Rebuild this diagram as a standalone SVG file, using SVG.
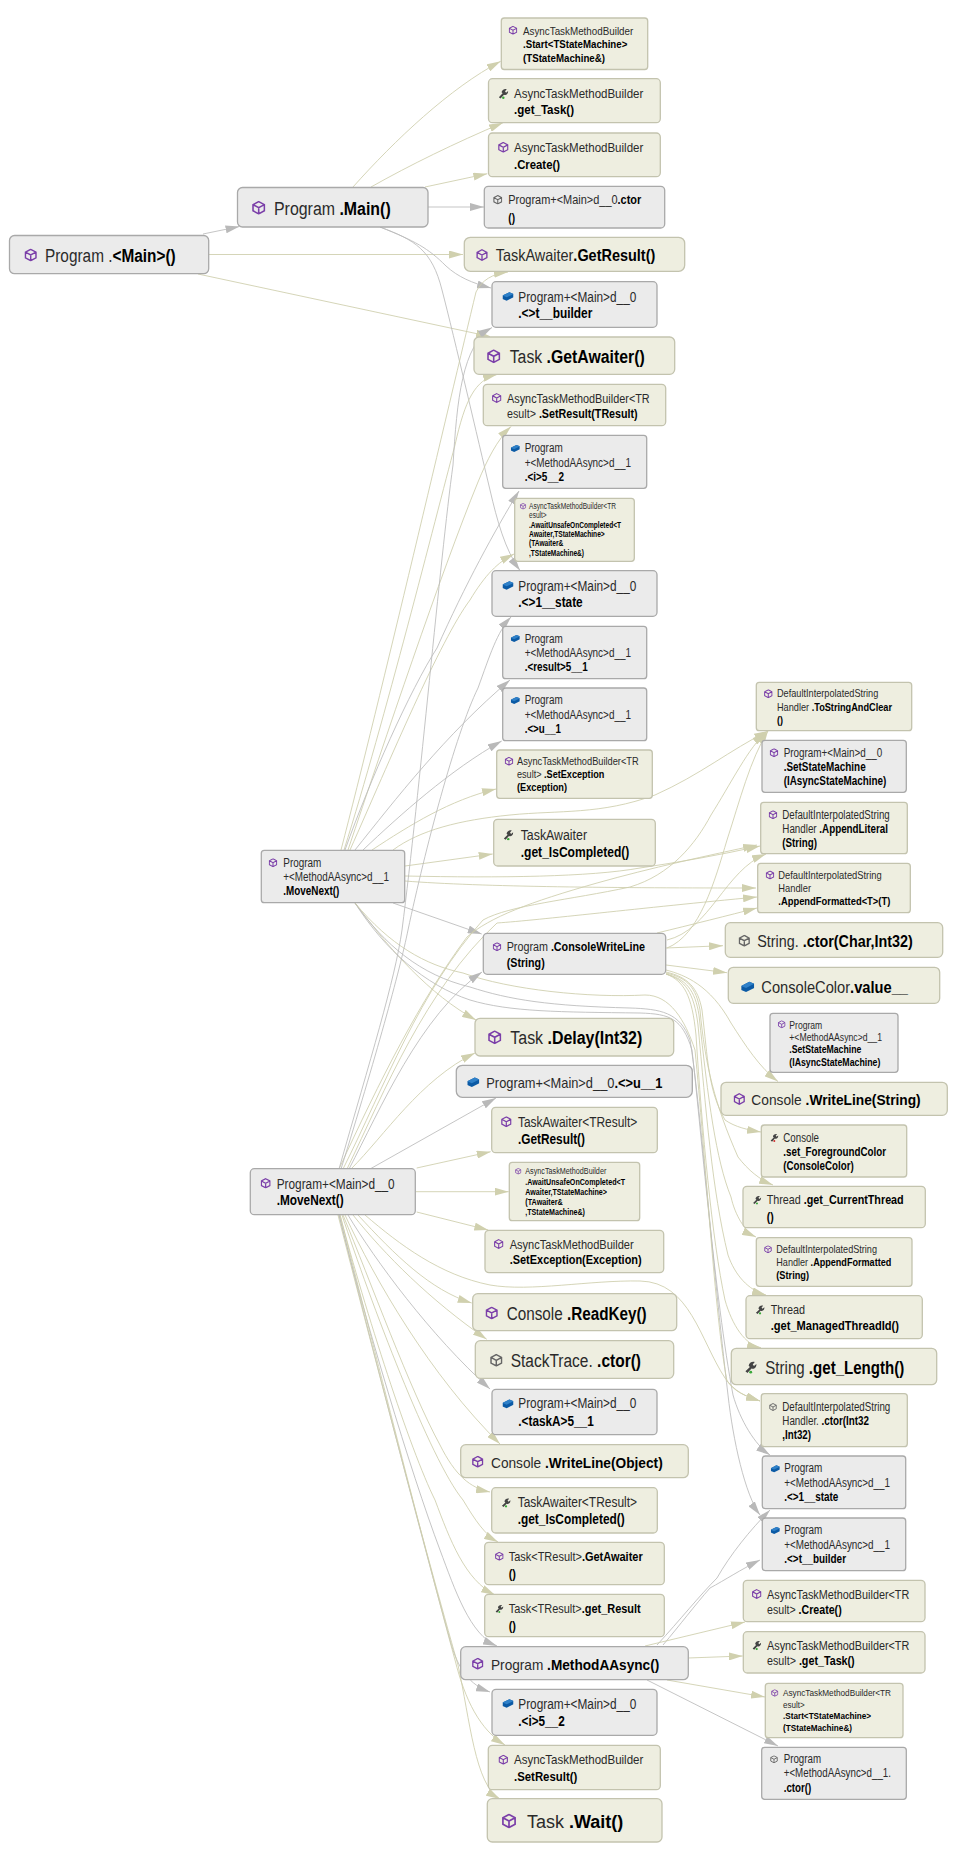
<svg xmlns="http://www.w3.org/2000/svg" width="956" height="1859" viewBox="0 0 956 1859">
<style>
text{font-family:"Liberation Sans",Arial,sans-serif;fill:#2a2a2a}
.b{font-weight:700;fill:#000}
.t{fill:#eeeee0;stroke:#c3c3ae;stroke-width:1.3}
.g{fill:#ebebeb;stroke:#a9a9a9;stroke-width:1.3}
.et,.eg{fill:none;stroke-width:.85}
.et{stroke:#cdcdab;marker-end:url(#at)}
.eg{stroke:#bbb;marker-end:url(#ag)}
.f85{font-size:8.5px}.f95{font-size:9.5px}.f10{font-size:10px}.f105{font-size:10.5px}.f11{font-size:11px}.f115{font-size:11.5px}.f12{font-size:12px}.f125{font-size:12.5px}.f13{font-size:13px}.f14{font-size:14px}.f15{font-size:15px}.f165{font-size:16.5px}.f18{font-size:18px}
</style>
<defs>
<marker id="at" markerUnits="userSpaceOnUse" markerWidth="14" markerHeight="8" refX="14" refY="4" orient="auto"><path d="M0,0L14,4L0,8z" fill="#d0d0ae"/></marker>
<marker id="ag" markerUnits="userSpaceOnUse" markerWidth="14" markerHeight="8" refX="14" refY="4" orient="auto"><path d="M0,0L14,4L0,8z" fill="#b9b9b9"/></marker>
<symbol id="cube" viewBox="0 0 16 16"><path d="M8,1L14.5,4.5V11.5L8,15L1.5,11.5V4.5zM1.5,4.5L8,8L14.5,4.5M8,8V15" fill="none" stroke="#7b3fa9" stroke-width="1.8"/></symbol>
<symbol id="gcube" viewBox="0 0 16 16"><path d="M8,1L14.5,4.5V11.5L8,15L1.5,11.5V4.5zM1.5,4.5L8,8L14.5,4.5M8,8V15" fill="none" stroke="#666" stroke-width="1.8"/></symbol>
<symbol id="brick" viewBox="0 0 16 16"><path d="M0,7L10,2L16,4.5V9.5L6,14.5L0,12z" fill="#0b5aa5"/><path d="M0,7L10,2L16,4.5L6,9.5z" fill="#2f80c8"/></symbol>
<symbol id="wrench" viewBox="0 0 16 16"><path d="M1.5,13L7,7.5L5.5,6C6,2.5 9.5,0.5 13,1.5L10.5,4.5L12,6.5L15,4C15.5,8 12,11 9,9.5L4,15z" fill="#444"/><circle cx="8" cy="14" r="1.8" fill="#3aa83a"/></symbol>
<symbol id="wrenchr" viewBox="0 0 16 16"><path d="M1.5,13L7,7.5L5.5,6C6,2.5 9.5,0.5 13,1.5L10.5,4.5L12,6.5L15,4C15.5,8 12,11 9,9.5L4,15z" fill="#444"/><circle cx="8" cy="14" r="1.8" fill="#d03030"/></symbol>
</defs>
<rect width="956" height="1859" fill="#fff"/>
<g id="connectors">
<path class="eg" d="M203,234L239.5,226.5"/>
<path class="et" d="M209,254.5L463,254.5"/>
<path class="et" d="M198,274L490,336.5"/>
<path class="et" d="M353,187C395,140 450,88 500.7,61.3"/>
<path class="et" d="M371,187C410,165 455,143 503,122.7"/>
<path class="et" d="M425,187L487.3,173.7"/>
<path class="eg" d="M428,207L484,207"/>
<path class="eg" d="M380,227C415,241 428,248 446,266C458,277 472,283 491,288"/>
<path class="eg" d="M380,227C415,240 432,250 442,290C455,340 478,440 490,490C497,520 505,550 520,570.5"/>
<path class="et" d="M341,850C380,700 450,400 476,292C482,280 492,274 508,272"/>
<path class="et" d="M344,850C385,720 435,520 455,445C465,400 475,380 497,374.5"/>
<path class="et" d="M348,850C385,740 440,575 478,482C487,460 497,440 511,426.5"/>
<path class="et" d="M350,850C390,760 440,640 470,600C485,575 498,562 514,554"/>
<path class="eg" d="M345,850C370,780 410,690 437,648C465,585 495,530 519,491"/>
<path class="eg" d="M355,850C395,800 445,735 510,680"/>
<path class="eg" d="M363,850C400,815 450,770 501.7,741"/>
<path class="et" d="M372,850C410,825 450,800 496,789"/>
<path class="et" d="M393,850C420,830 460,820 510,815C560,810 600,815 655,795C700,775 730,750 768,731"/>
<path class="et" d="M405,866L492.7,854"/>
<path class="et" d="M405,876C500,878 590,877 640,868C680,862 720,855 760,846"/>
<path class="et" d="M405,881C480,887 620,888 756,888"/>
<path class="eg" d="M393,903L481.7,934"/>
<path class="et" d="M355,903C390,950 430,995 476,1020"/>
<path class="eg" d="M355,903C385,945 420,975 470,987C510,1000 550,1006 630,1008C660,1009 680,1012 690,1040C700,1100 712,1260 728,1395C733,1440 745,1495 760,1515"/>
<path class="eg" d="M355,903C385,950 425,985 470,1000C510,1012 560,1012 640,1013C670,1014 682,1018 692,1050C700,1120 715,1300 733,1395C740,1420 755,1445 770,1455"/>
<path class="et" d="M355,903C390,945 425,965 463,973C510,990 590,998 645,995C670,995 685,1020 695,1050C705,1150 715,1320 727,1381C735,1392 745,1396 760,1401"/>
<path class="et" d="M339,1169C380,1080 420,1000 467,937C490,917 530,902 597,883C650,868 710,855 757,845"/>
<path class="et" d="M343,1169C385,1085 420,990 483,920C510,905 570,900 630,887C670,875 695,845 711,815C730,785 750,745 766,733"/>
<path class="et" d="M347,1169C385,1090 425,990 497,923C540,920 640,908 757,897"/>
<path class="eg" d="M339,1169C370,1060 395,980 402,930C420,790 440,560 453,465C457,400 462,345 492,327.5"/>
<path class="eg" d="M341,1169C375,1060 400,970 408,930C425,850 455,735 478,688C490,655 497,632 511,617"/>
<path class="eg" d="M349,1169C380,1110 420,1015 482,972"/>
<path class="et" d="M351,1169C385,1135 420,1080 475,1053"/>
<path class="eg" d="M370,1169L496,1098"/>
<path class="et" d="M416.7,1168L490.7,1151.7"/>
<path class="et" d="M415.5,1191.7L508.7,1191.7"/>
<path class="et" d="M416.7,1212L488.3,1230"/>
<path class="et" d="M365,1215C400,1245 440,1275 490,1285C530,1292 590,1280 640,1281C690,1282 700,1340 725,1378C735,1392 745,1396 760,1401"/>
<path class="et" d="M358,1215C395,1255 430,1290 471.7,1303"/>
<path class="et" d="M353,1215C385,1255 430,1300 486.7,1339.3"/>
<path class="eg" d="M348,1215C375,1260 430,1335 490,1389"/>
<path class="et" d="M345,1215C375,1280 430,1375 500,1444"/>
<path class="et" d="M343,1215C370,1280 410,1390 440,1445C455,1475 470,1488 490,1492"/>
<path class="et" d="M342,1215C370,1300 430,1460 463,1500C475,1520 485,1535 498,1542"/>
<path class="et" d="M340,1215C365,1310 410,1450 435,1500C450,1540 465,1580 495,1595"/>
<path class="eg" d="M339,1215C365,1320 410,1470 440,1550C455,1590 470,1635 497,1646"/>
<path class="eg" d="M339,1215C370,1340 425,1550 450,1640C458,1670 470,1685 490,1692"/>
<path class="et" d="M340,1215C372,1340 425,1550 455,1660C465,1700 480,1730 505,1745"/>
<path class="et" d="M338,1215C370,1340 425,1550 458,1665C470,1720 475,1785 500,1799"/>
<path class="et" d="M667,948C700,935 715,880 727,840C740,800 750,760 768,731"/>
<path class="et" d="M667,940C710,930 725,870 766,854"/>
<path class="et" d="M657,933C690,925 730,915 757,908"/>
<path class="et" d="M666,948L723,945.7"/>
<path class="et" d="M666,965L727,972.7"/>
<path class="et" d="M666,970C685,975 710,985 731,1023C745,1045 760,1068 778,1081.5"/>
<path class="et" d="M666,972C688,977 698,988 702,1010C708,1060 708,1090 725,1120C735,1127 748,1130 761,1132"/>
<path class="et" d="M666,973C688,978 696,988 700,1010C705,1065 715,1105 738,1157C748,1170 760,1180 773,1185"/>
<path class="et" d="M666,974C686,979 695,990 699,1015C708,1100 716,1160 731,1197C735,1215 745,1232 756,1237"/>
<path class="et" d="M666,974C685,980 694,992 698,1025C706,1110 712,1190 728,1255C735,1275 748,1290 766,1295"/>
<path class="et" d="M666,974C684,981 692,995 696,1035C702,1130 712,1240 725,1300C732,1325 745,1345 761,1347.7"/>
<path class="eg" d="M657,1645C680,1620 700,1595 717,1578C730,1555 750,1530 770,1510"/>
<path class="eg" d="M663,1645C680,1625 695,1605 710,1588C725,1580 740,1570 760,1560"/>
<path class="et" d="M645,1646L745,1622"/>
<path class="et" d="M688,1658L742.7,1656"/>
<path class="et" d="M667,1680L765,1697"/>
<path class="eg" d="M647,1680L778,1746"/>
</g>
<g id="n01"><rect class="g" x="9.5" y="235.5" width="199.2" height="38.2" rx="5"/><use href="#cube" x="24.2" y="248.5" width="13" height="13"/><text x="45" y="261.7" textLength="130.7" lengthAdjust="spacingAndGlyphs" class="f18">Program .<tspan class="b">&lt;Main&gt;()</tspan></text></g>
<g id="n02"><rect class="g" x="237.5" y="187.5" width="190.5" height="39.5" rx="5"/><use href="#cube" x="251.7" y="200.7" width="14" height="14"/><text x="274" y="215" textLength="116.7" lengthAdjust="spacingAndGlyphs" class="f18">Program <tspan class="b">.Main()</tspan></text></g>
<g id="n03"><rect class="t" x="501.3" y="18" width="146.4" height="51.5" rx="3"/><use href="#cube" x="508.5" y="25.8" width="9" height="9"/><text x="523" y="34.5" textLength="110.3" lengthAdjust="spacingAndGlyphs" class="f11">AsyncTaskMethodBuilder</text><text x="523" y="48.3" textLength="104.3" lengthAdjust="spacingAndGlyphs" class="f11 b">.Start&lt;TStateMachine&gt;</text><text x="523" y="62.3" textLength="82" lengthAdjust="spacingAndGlyphs" class="f11 b">(TStateMachine&amp;)</text></g>
<g id="n04"><rect class="t" x="488.5" y="78.7" width="171.8" height="44" rx="4"/><use href="#wrench" x="497.8" y="88.2" width="11" height="11"/><text x="514" y="97.7" textLength="129.3" lengthAdjust="spacingAndGlyphs" class="f125">AsyncTaskMethodBuilder</text><text x="514" y="114.3" textLength="60" lengthAdjust="spacingAndGlyphs" class="f125 b">.get_Task()</text></g>
<g id="n05"><rect class="t" x="488.5" y="133" width="171.8" height="43.7" rx="4"/><use href="#cube" x="497.8" y="141.8" width="11" height="11"/><text x="514" y="151.7" textLength="129.3" lengthAdjust="spacingAndGlyphs" class="f125">AsyncTaskMethodBuilder</text><text x="514" y="169" textLength="46" lengthAdjust="spacingAndGlyphs" class="f125 b">.Create()</text></g>
<g id="n06"><rect class="g" x="484.3" y="186.3" width="180.4" height="41.7" rx="4"/><use href="#gcube" x="493" y="195" width="9.5" height="9.5"/><text x="508.3" y="204" textLength="133" lengthAdjust="spacingAndGlyphs" class="f125">Program+&lt;Main&gt;d__0<tspan class="b">.ctor</tspan></text><text x="508.3" y="221.7" textLength="6.7" lengthAdjust="spacingAndGlyphs" class="f125 b">()</text></g>
<g id="n07"><rect class="t" x="464.3" y="237.3" width="220.4" height="34" rx="6"/><use href="#cube" x="476" y="249" width="12" height="12"/><text x="495.7" y="261" textLength="159.6" lengthAdjust="spacingAndGlyphs" class="f165">TaskAwaiter<tspan class="b">.GetResult()</tspan></text></g>
<g id="n08"><rect class="g" x="492" y="281.7" width="165" height="45.6" rx="4"/><use href="#brick" x="502.5" y="290.8" width="11" height="11"/><text x="518.3" y="301.7" textLength="118" lengthAdjust="spacingAndGlyphs" class="f14">Program+&lt;Main&gt;d__0</text><text x="518.3" y="318.3" textLength="74" lengthAdjust="spacingAndGlyphs" class="f14 b">.&lt;&gt;t__builder</text></g>
<g id="n09"><rect class="t" x="474" y="337" width="200.7" height="37.3" rx="5"/><use href="#cube" x="486.7" y="349.3" width="14" height="14"/><text x="509.7" y="362.7" textLength="135" lengthAdjust="spacingAndGlyphs" class="f18">Task <tspan class="b">.GetAwaiter()</tspan></text></g>
<g id="n10"><rect class="t" x="483.3" y="384.3" width="182.4" height="41.4" rx="4"/><use href="#cube" x="491.7" y="393" width="10" height="10"/><text x="507" y="402.7" textLength="142.7" lengthAdjust="spacingAndGlyphs" class="f12">AsyncTaskMethodBuilder&lt;TR</text><text x="507" y="417.7" textLength="130.7" lengthAdjust="spacingAndGlyphs" class="f12">esult&gt; <tspan class="b">.SetResult(TResult)</tspan></text></g>
<g id="n11"><rect class="g" x="502.7" y="435.3" width="144" height="53" rx="3"/><use href="#brick" x="510.8" y="443.8" width="9" height="9"/><text x="524.7" y="452.3" textLength="38" lengthAdjust="spacingAndGlyphs" class="f12">Program</text><text x="524.7" y="466.7" textLength="106.3" lengthAdjust="spacingAndGlyphs" class="f12">+&lt;MethodAAsync&gt;d__1</text><text x="524.7" y="481" textLength="39.3" lengthAdjust="spacingAndGlyphs" class="f12 b">.&lt;i&gt;5__2</text></g>
<g id="n12"><rect class="t" x="514.7" y="498.3" width="119.6" height="63" rx="3"/><use href="#cube" x="519.8" y="503" width="6.5" height="6.5"/><text x="529" y="509" textLength="87" lengthAdjust="spacingAndGlyphs" class="f85">AsyncTaskMethodBuilder&lt;TR</text><text x="529" y="518.3" textLength="17.7" lengthAdjust="spacingAndGlyphs" class="f85">esult&gt;</text><text x="529" y="527.7" textLength="92" lengthAdjust="spacingAndGlyphs" class="f85 b">.AwaitUnsafeOnCompleted&lt;T</text><text x="529" y="537" textLength="75.7" lengthAdjust="spacingAndGlyphs" class="f85 b">Awaiter,TStateMachine&gt;</text><text x="529" y="546.3" textLength="34.3" lengthAdjust="spacingAndGlyphs" class="f85 b">(TAwaiter&amp;</text><text x="529" y="555.7" textLength="55" lengthAdjust="spacingAndGlyphs" class="f85 b">,TStateMachine&amp;)</text></g>
<g id="n13"><rect class="g" x="492" y="570.7" width="165" height="45.6" rx="4"/><use href="#brick" x="502.5" y="579.8" width="11" height="11"/><text x="518.3" y="591" textLength="118" lengthAdjust="spacingAndGlyphs" class="f14">Program+&lt;Main&gt;d__0</text><text x="518.3" y="607.3" textLength="64.4" lengthAdjust="spacingAndGlyphs" class="f14 b">.&lt;&gt;1__state</text></g>
<g id="n14"><rect class="g" x="502.7" y="626.3" width="144" height="52.4" rx="3"/><use href="#brick" x="510.8" y="633.8" width="9" height="9"/><text x="524.7" y="642.7" textLength="38" lengthAdjust="spacingAndGlyphs" class="f12">Program</text><text x="524.7" y="657" textLength="106.3" lengthAdjust="spacingAndGlyphs" class="f12">+&lt;MethodAAsync&gt;d__1</text><text x="524.7" y="671" textLength="63" lengthAdjust="spacingAndGlyphs" class="f12 b">.&lt;result&gt;5__1</text></g>
<g id="n15"><rect class="g" x="502.7" y="688" width="144" height="52.7" rx="3"/><use href="#brick" x="510.8" y="695.8" width="9" height="9"/><text x="524.7" y="704.3" textLength="38" lengthAdjust="spacingAndGlyphs" class="f12">Program</text><text x="524.7" y="718.7" textLength="106.3" lengthAdjust="spacingAndGlyphs" class="f12">+&lt;MethodAAsync&gt;d__1</text><text x="524.7" y="733" textLength="36.3" lengthAdjust="spacingAndGlyphs" class="f12 b">.&lt;&gt;u__1</text></g>
<g id="n16"><rect class="t" x="496.7" y="750" width="155.6" height="48.3" rx="3"/><use href="#cube" x="504.5" y="756.8" width="9" height="9"/><text x="517" y="765" textLength="121.7" lengthAdjust="spacingAndGlyphs" class="f115">AsyncTaskMethodBuilder&lt;TR</text><text x="517" y="778" textLength="87.3" lengthAdjust="spacingAndGlyphs" class="f115">esult&gt; <tspan class="b">.SetException</tspan></text><text x="517" y="791" textLength="50" lengthAdjust="spacingAndGlyphs" class="f115 b">(Exception)</text></g>
<g id="n17"><rect class="t" x="493.7" y="819.3" width="161.6" height="46.7" rx="4"/><use href="#wrench" x="502.8" y="829.5" width="11" height="11"/><text x="520.7" y="839.7" textLength="66.3" lengthAdjust="spacingAndGlyphs" class="f14">TaskAwaiter</text><text x="520.7" y="857" textLength="108.6" lengthAdjust="spacingAndGlyphs" class="f14 b">.get_IsCompleted()</text></g>
<g id="n18"><rect class="t" x="756.3" y="682.3" width="155.4" height="48.4" rx="3"/><use href="#cube" x="763.8" y="689.2" width="9" height="9"/><text x="777" y="697.3" textLength="101.3" lengthAdjust="spacingAndGlyphs" class="f11">DefaultInterpolatedString</text><text x="777" y="710.7" textLength="115" lengthAdjust="spacingAndGlyphs" class="f11">Handler <tspan class="b">.ToStringAndClear</tspan></text><text x="777" y="724.3" textLength="6" lengthAdjust="spacingAndGlyphs" class="f11 b">()</text></g>
<g id="n19"><rect class="g" x="762" y="740.3" width="144.3" height="52" rx="3"/><use href="#cube" x="769.5" y="748.2" width="9" height="9"/><text x="783.7" y="757" textLength="98.6" lengthAdjust="spacingAndGlyphs" class="f12">Program+&lt;Main&gt;d__0</text><text x="783.7" y="771" textLength="82" lengthAdjust="spacingAndGlyphs" class="f12 b">.SetStateMachine</text><text x="783.7" y="785" textLength="102.6" lengthAdjust="spacingAndGlyphs" class="f12 b">(IAsyncStateMachine)</text></g>
<g id="n20"><rect class="t" x="760.7" y="802.3" width="146.6" height="51.4" rx="3"/><use href="#cube" x="768.5" y="810.2" width="9" height="9"/><text x="782.3" y="819" textLength="107.4" lengthAdjust="spacingAndGlyphs" class="f12">DefaultInterpolatedString</text><text x="782.3" y="833" textLength="105.7" lengthAdjust="spacingAndGlyphs" class="f12">Handler <tspan class="b">.AppendLiteral</tspan></text><text x="782.3" y="847" textLength="34.7" lengthAdjust="spacingAndGlyphs" class="f12 b">(String)</text></g>
<g id="n21"><rect class="t" x="757.7" y="863.3" width="152.6" height="49.4" rx="3"/><use href="#cube" x="765.5" y="870.5" width="9" height="9"/><text x="778.3" y="879" textLength="103.4" lengthAdjust="spacingAndGlyphs" class="f11">DefaultInterpolatedString</text><text x="778.3" y="892.3" textLength="32.7" lengthAdjust="spacingAndGlyphs" class="f11">Handler</text><text x="778.3" y="905.3" textLength="112" lengthAdjust="spacingAndGlyphs" class="f11 b">.AppendFormatted&lt;T&gt;(T)</text></g>
<g id="n22"><rect class="t" x="725.3" y="922.7" width="217.4" height="34.6" rx="5"/><use href="#gcube" x="738.3" y="934.7" width="12" height="12"/><text x="757.3" y="947.3" textLength="155.4" lengthAdjust="spacingAndGlyphs" class="f165">String. <tspan class="b">.ctor(Char,Int32)</tspan></text></g>
<g id="n23"><rect class="g" x="483.3" y="933.3" width="182.4" height="41" rx="4"/><use href="#cube" x="492.5" y="942.2" width="9" height="9"/><text x="506.7" y="951.3" textLength="138.3" lengthAdjust="spacingAndGlyphs" class="f12">Program <tspan class="b">.ConsoleWriteLine</tspan></text><text x="506.7" y="966.7" textLength="38" lengthAdjust="spacingAndGlyphs" class="f12 b">(String)</text></g>
<g id="n24"><rect class="t" x="728.3" y="967.3" width="211.4" height="36" rx="5"/><use href="#brick" x="741.2" y="980.2" width="13" height="13"/><text x="761.3" y="992.7" textLength="146.7" lengthAdjust="spacingAndGlyphs" class="f165">ConsoleColor<tspan class="b">.value__</tspan></text></g>
<g id="n25"><rect class="g" x="770" y="1013.3" width="128" height="59" rx="3"/><use href="#cube" x="777.7" y="1020.3" width="8" height="8"/><text x="789.3" y="1028.7" textLength="33" lengthAdjust="spacingAndGlyphs" class="f10">Program</text><text x="789.3" y="1041" textLength="92.7" lengthAdjust="spacingAndGlyphs" class="f10">+&lt;MethodAAsync&gt;d__1</text><text x="789.3" y="1053.3" textLength="72" lengthAdjust="spacingAndGlyphs" class="f10 b">.SetStateMachine</text><text x="789.3" y="1066" textLength="91" lengthAdjust="spacingAndGlyphs" class="f10 b">(IAsyncStateMachine)</text></g>
<g id="n26"><rect class="t" x="721" y="1082.3" width="226.3" height="33" rx="5"/><use href="#cube" x="733.3" y="1093" width="12" height="12"/><text x="751.3" y="1105.3" textLength="169.4" lengthAdjust="spacingAndGlyphs" class="f15">Console <tspan class="b">.WriteLine(String)</tspan></text></g>
<g id="n27"><rect class="t" x="475" y="1018.3" width="198.7" height="37.7" rx="5"/><use href="#cube" x="487.7" y="1030.3" width="14" height="14"/><text x="510.3" y="1044.3" textLength="132" lengthAdjust="spacingAndGlyphs" class="f18">Task <tspan class="b">.Delay(Int32)</tspan></text></g>
<g id="n28"><rect class="g" x="456.3" y="1065.3" width="236" height="32" rx="6"/><use href="#brick" x="467.3" y="1076" width="12" height="12"/><text x="486.3" y="1087.7" textLength="176" lengthAdjust="spacingAndGlyphs" class="f15">Program+&lt;Main&gt;d__0<tspan class="b">.&lt;&gt;u__1</tspan></text></g>
<g id="n29"><rect class="t" x="491.7" y="1107.3" width="165.6" height="45.4" rx="4"/><use href="#cube" x="500.8" y="1116.2" width="11" height="11"/><text x="518" y="1127" textLength="119.3" lengthAdjust="spacingAndGlyphs" class="f14">TaskAwaiter&lt;TResult&gt;</text><text x="518" y="1144" textLength="67" lengthAdjust="spacingAndGlyphs" class="f14 b">.GetResult()</text></g>
<g id="n30"><rect class="t" x="509.3" y="1162.3" width="130.4" height="58.4" rx="3"/><use href="#cube" x="515" y="1168" width="6.5" height="6.5"/><text x="525.3" y="1174.3" textLength="81" lengthAdjust="spacingAndGlyphs" class="f85">AsyncTaskMethodBuilder</text><text x="525.3" y="1184.7" textLength="99.7" lengthAdjust="spacingAndGlyphs" class="f85 b">.AwaitUnsafeOnCompleted&lt;T</text><text x="525.3" y="1194.7" textLength="81.7" lengthAdjust="spacingAndGlyphs" class="f85 b">Awaiter,TStateMachine&gt;</text><text x="525.3" y="1205" textLength="37.4" lengthAdjust="spacingAndGlyphs" class="f85 b">(TAwaiter&amp;</text><text x="525.3" y="1215" textLength="59.7" lengthAdjust="spacingAndGlyphs" class="f85 b">,TStateMachine&amp;)</text></g>
<g id="n31"><rect class="t" x="485" y="1230.3" width="178.7" height="42.4" rx="4"/><use href="#cube" x="493.7" y="1239" width="10" height="10"/><text x="509.7" y="1248.7" textLength="124" lengthAdjust="spacingAndGlyphs" class="f125">AsyncTaskMethodBuilder</text><text x="509.7" y="1264" textLength="132" lengthAdjust="spacingAndGlyphs" class="f125 b">.SetException(Exception)</text></g>
<g id="n32"><rect class="t" x="761.3" y="1125" width="145.4" height="52" rx="3"/><use href="#wrenchr" x="769.8" y="1133.2" width="9" height="9"/><text x="783.3" y="1141.7" textLength="35.7" lengthAdjust="spacingAndGlyphs" class="f12">Console</text><text x="783.3" y="1156" textLength="102.7" lengthAdjust="spacingAndGlyphs" class="f12 b">.set_ForegroundColor</text><text x="783.3" y="1170" textLength="70.4" lengthAdjust="spacingAndGlyphs" class="f12 b">(ConsoleColor)</text></g>
<g id="n33"><rect class="t" x="743" y="1186.3" width="182.3" height="41.4" rx="4"/><use href="#wrench" x="752.2" y="1195.2" width="9.5" height="9.5"/><text x="766.7" y="1204" textLength="137" lengthAdjust="spacingAndGlyphs" class="f13">Thread <tspan class="b">.get_CurrentThread</tspan></text><text x="766.7" y="1221" textLength="7" lengthAdjust="spacingAndGlyphs" class="f13 b">()</text></g>
<g id="n34"><rect class="t" x="756.3" y="1237.7" width="155.7" height="48.6" rx="3"/><use href="#cube" x="764" y="1245.3" width="8" height="8"/><text x="776.3" y="1253.3" textLength="100.7" lengthAdjust="spacingAndGlyphs" class="f11">DefaultInterpolatedString</text><text x="776.3" y="1266.3" textLength="115" lengthAdjust="spacingAndGlyphs" class="f11">Handler <tspan class="b">.AppendFormatted</tspan></text><text x="776.3" y="1279.3" textLength="32.7" lengthAdjust="spacingAndGlyphs" class="f11 b">(String)</text></g>
<g id="n35"><rect class="t" x="746" y="1295.7" width="176.3" height="43" rx="4"/><use href="#wrench" x="755" y="1304.7" width="10" height="10"/><text x="770.7" y="1314" textLength="34.3" lengthAdjust="spacingAndGlyphs" class="f13">Thread</text><text x="770.7" y="1330.3" textLength="128.3" lengthAdjust="spacingAndGlyphs" class="f13 b">.get_ManagedThreadId()</text></g>
<g id="n36"><rect class="t" x="731.3" y="1348.3" width="205.4" height="36.4" rx="5"/><use href="#wrench" x="744.2" y="1360.8" width="13" height="13"/><text x="765.3" y="1374.3" textLength="139" lengthAdjust="spacingAndGlyphs" class="f18">String <tspan class="b">.get_Length()</tspan></text></g>
<g id="n37"><rect class="t" x="472.7" y="1293.7" width="204" height="37" rx="5"/><use href="#cube" x="485.2" y="1306.5" width="13" height="13"/><text x="506.7" y="1320" textLength="140" lengthAdjust="spacingAndGlyphs" class="f18">Console <tspan class="b">.ReadKey()</tspan></text></g>
<g id="n38"><rect class="t" x="475.3" y="1340.7" width="198.4" height="37.6" rx="5"/><use href="#gcube" x="489.8" y="1353.8" width="13" height="13"/><text x="510.7" y="1366.7" textLength="130.3" lengthAdjust="spacingAndGlyphs" class="f18">StackTrace. <tspan class="b">.ctor()</tspan></text></g>
<g id="n39"><rect class="g" x="492" y="1389.3" width="165" height="45.4" rx="4"/><use href="#brick" x="502.5" y="1398.2" width="11" height="11"/><text x="518.3" y="1408.3" textLength="118" lengthAdjust="spacingAndGlyphs" class="f14">Program+&lt;Main&gt;d__0</text><text x="518.3" y="1425.7" textLength="75.4" lengthAdjust="spacingAndGlyphs" class="f14 b">.&lt;taskA&gt;5__1</text></g>
<g id="n40"><rect class="t" x="460.7" y="1444.7" width="227.6" height="33" rx="5"/><use href="#cube" x="471.7" y="1455.7" width="12" height="12"/><text x="491" y="1467.7" textLength="171.7" lengthAdjust="spacingAndGlyphs" class="f15">Console <tspan class="b">.WriteLine(Object)</tspan></text></g>
<g id="n41"><rect class="t" x="491.7" y="1487.7" width="165.6" height="45.3" rx="4"/><use href="#wrench" x="501" y="1497.7" width="10" height="10"/><text x="517.7" y="1507" textLength="119.3" lengthAdjust="spacingAndGlyphs" class="f14">TaskAwaiter&lt;TResult&gt;</text><text x="517.7" y="1524.3" textLength="107" lengthAdjust="spacingAndGlyphs" class="f14 b">.get_IsCompleted()</text></g>
<g id="n42"><rect class="t" x="484.7" y="1542.3" width="179.6" height="42.4" rx="4"/><use href="#cube" x="494.8" y="1551.8" width="9" height="9"/><text x="508.7" y="1560.7" textLength="134" lengthAdjust="spacingAndGlyphs" class="f13">Task&lt;TResult&gt;<tspan class="b">.GetAwaiter</tspan></text><text x="508.7" y="1577.7" textLength="7.3" lengthAdjust="spacingAndGlyphs" class="f13 b">()</text></g>
<g id="n43"><rect class="t" x="484.7" y="1594.3" width="179.6" height="42.4" rx="4"/><use href="#wrench" x="494.8" y="1604.2" width="9" height="9"/><text x="508.7" y="1612.7" textLength="132" lengthAdjust="spacingAndGlyphs" class="f13">Task&lt;TResult&gt;<tspan class="b">.get_Result</tspan></text><text x="508.7" y="1629.7" textLength="7.3" lengthAdjust="spacingAndGlyphs" class="f13 b">()</text></g>
<g id="n44"><rect class="g" x="460.7" y="1646.7" width="227.6" height="33" rx="5"/><use href="#cube" x="471.7" y="1657.7" width="12" height="12"/><text x="491" y="1669.7" textLength="168.3" lengthAdjust="spacingAndGlyphs" class="f15">Program <tspan class="b">.MethodAAsync()</tspan></text></g>
<g id="n45"><rect class="g" x="492" y="1689.3" width="165" height="46" rx="4"/><use href="#brick" x="502.5" y="1697.8" width="11" height="11"/><text x="518.3" y="1709" textLength="118" lengthAdjust="spacingAndGlyphs" class="f14">Program+&lt;Main&gt;d__0</text><text x="518.3" y="1726" textLength="46.4" lengthAdjust="spacingAndGlyphs" class="f14 b">.&lt;i&gt;5__2</text></g>
<g id="n46"><rect class="t" x="488.3" y="1745.3" width="172" height="44.4" rx="4"/><use href="#cube" x="498.3" y="1754.7" width="10" height="10"/><text x="514" y="1764" textLength="129.3" lengthAdjust="spacingAndGlyphs" class="f13">AsyncTaskMethodBuilder</text><text x="514" y="1781" textLength="63.3" lengthAdjust="spacingAndGlyphs" class="f13 b">.SetResult()</text></g>
<g id="n47"><rect class="t" x="487.3" y="1798.7" width="174.7" height="43.3" rx="5"/><use href="#cube" x="501.5" y="1813.5" width="15" height="15"/><text x="527" y="1828.3" textLength="96.3" lengthAdjust="spacingAndGlyphs" class="f18">Task <tspan class="b">.Wait()</tspan></text></g>
<g id="n48"><rect class="t" x="761.3" y="1393.6" width="146" height="53.1" rx="3"/><use href="#gcube" x="769" y="1403" width="8" height="8"/><text x="782.3" y="1411" textLength="108" lengthAdjust="spacingAndGlyphs" class="f12">DefaultInterpolatedString</text><text x="782.3" y="1425" textLength="86.7" lengthAdjust="spacingAndGlyphs" class="f12">Handler. <tspan class="b">.ctor(Int32</tspan></text><text x="782.3" y="1439" textLength="28.7" lengthAdjust="spacingAndGlyphs" class="f12 b">,Int32)</text></g>
<g id="n49"><rect class="g" x="762.3" y="1456" width="143.4" height="52.7" rx="3"/><use href="#brick" x="770.8" y="1464.2" width="9" height="9"/><text x="784.3" y="1472.3" textLength="38" lengthAdjust="spacingAndGlyphs" class="f12">Program</text><text x="784.3" y="1486.7" textLength="105.7" lengthAdjust="spacingAndGlyphs" class="f12">+&lt;MethodAAsync&gt;d__1</text><text x="784.3" y="1501" textLength="54" lengthAdjust="spacingAndGlyphs" class="f12 b">.&lt;&gt;1__state</text></g>
<g id="n50"><rect class="g" x="762.3" y="1518" width="143.4" height="52.7" rx="3"/><use href="#brick" x="770.8" y="1525.8" width="9" height="9"/><text x="784.3" y="1534.3" textLength="38" lengthAdjust="spacingAndGlyphs" class="f12">Program</text><text x="784.3" y="1548.7" textLength="105.7" lengthAdjust="spacingAndGlyphs" class="f12">+&lt;MethodAAsync&gt;d__1</text><text x="784.3" y="1562.7" textLength="61.7" lengthAdjust="spacingAndGlyphs" class="f12 b">.&lt;&gt;t__builder</text></g>
<g id="n51"><rect class="t" x="743.3" y="1580.3" width="181.7" height="41.4" rx="4"/><use href="#cube" x="751.7" y="1589" width="10" height="10"/><text x="767" y="1598.7" textLength="142.3" lengthAdjust="spacingAndGlyphs" class="f12">AsyncTaskMethodBuilder&lt;TR</text><text x="767" y="1613.7" textLength="74.7" lengthAdjust="spacingAndGlyphs" class="f12">esult&gt; <tspan class="b">.Create()</tspan></text></g>
<g id="n52"><rect class="t" x="743.3" y="1631.7" width="181.7" height="41.3" rx="4"/><use href="#wrench" x="751.7" y="1640.3" width="10" height="10"/><text x="767" y="1649.7" textLength="142.3" lengthAdjust="spacingAndGlyphs" class="f12">AsyncTaskMethodBuilder&lt;TR</text><text x="767" y="1664.7" textLength="87.7" lengthAdjust="spacingAndGlyphs" class="f12">esult&gt; <tspan class="b">.get_Task()</tspan></text></g>
<g id="n53"><rect class="t" x="765.3" y="1683.3" width="137.7" height="54.4" rx="3"/><use href="#cube" x="771" y="1689.2" width="7.5" height="7.5"/><text x="783" y="1696.3" textLength="108" lengthAdjust="spacingAndGlyphs" class="f95">AsyncTaskMethodBuilder&lt;TR</text><text x="783" y="1707.7" textLength="21.7" lengthAdjust="spacingAndGlyphs" class="f95">esult&gt;</text><text x="783" y="1719.3" textLength="88" lengthAdjust="spacingAndGlyphs" class="f95 b">.Start&lt;TStateMachine&gt;</text><text x="783" y="1731" textLength="69" lengthAdjust="spacingAndGlyphs" class="f95 b">(TStateMachine&amp;)</text></g>
<g id="n54"><rect class="g" x="761.7" y="1747.3" width="144.6" height="52" rx="3"/><use href="#gcube" x="770" y="1755.3" width="8" height="8"/><text x="783.7" y="1763" textLength="37.3" lengthAdjust="spacingAndGlyphs" class="f12">Program</text><text x="783.7" y="1777.3" textLength="107.3" lengthAdjust="spacingAndGlyphs" class="f12">+&lt;MethodAAsync&gt;d__1.</text><text x="783.7" y="1791.7" textLength="27.6" lengthAdjust="spacingAndGlyphs" class="f12 b">.ctor()</text></g>
<g id="n55"><rect class="g" x="261.3" y="850.3" width="143.4" height="52.4" rx="3"/><use href="#cube" x="268.5" y="858.2" width="9" height="9"/><text x="283.3" y="866.7" textLength="38" lengthAdjust="spacingAndGlyphs" class="f12">Program</text><text x="283.3" y="881" textLength="105.7" lengthAdjust="spacingAndGlyphs" class="f12">+&lt;MethodAAsync&gt;d__1</text><text x="283.3" y="895" textLength="56" lengthAdjust="spacingAndGlyphs" class="f12 b">.MoveNext()</text></g>
<g id="n56"><rect class="g" x="250.3" y="1168.7" width="165" height="46" rx="4"/><use href="#cube" x="260.4" y="1178" width="10.5" height="10.5"/><text x="276.7" y="1189" textLength="118" lengthAdjust="spacingAndGlyphs" class="f14">Program+&lt;Main&gt;d__0</text><text x="276.7" y="1205.3" textLength="67" lengthAdjust="spacingAndGlyphs" class="f14 b">.MoveNext()</text></g>
</svg>
